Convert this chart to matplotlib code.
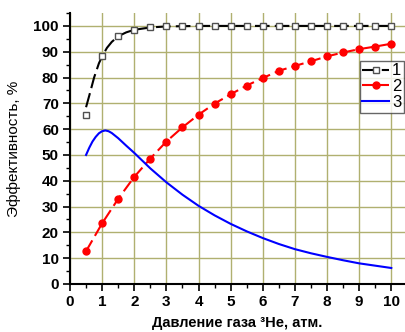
import matplotlib
matplotlib.use("Agg")
import matplotlib.pyplot as plt
from matplotlib.ticker import MultipleLocator

plt.rcParams['font.family'] = ['Liberation Sans', 'DejaVu Sans']

# series 1: measured points and the smooth curve through them
p1_x = [0.5, 1.0, 1.5, 2.0, 2.5, 3.0, 3.5, 4.0, 4.5, 5.0, 5.5, 6.0, 6.5, 7.0, 7.5, 8.0, 8.5, 9.0, 9.5, 10.0]
p1_y = [65.3, 88.2, 96.0, 98.5, 99.4, 100, 100, 100, 100, 100, 100, 100, 100, 100, 100, 100, 100, 100, 100, 100]
c1_x = [0.5, 0.6, 0.75, 0.9, 1.0, 1.15, 1.3, 1.5, 1.75, 2.0, 2.5, 3.0, 4.0, 5.0, 6.0, 7.0, 8.0, 9.0, 10.0]
c1_y = [68.5, 73.0, 80.0, 85.5, 88.2, 91.5, 93.8, 96.0, 97.5, 98.5, 99.4, 99.8, 100, 100, 100, 100, 100, 100, 100]

# series 2
p2_x = [0.5, 1.0, 1.5, 2.0, 2.5, 3.0, 3.5, 4.0, 4.5, 5.0, 5.5, 6.0, 6.5, 7.0, 7.5, 8.0, 8.5, 9.0, 9.5, 10.0]
p2_y = [12.7, 23.5, 33.0, 41.5, 48.6, 55.2, 60.7, 65.6, 69.9, 73.5, 76.9, 79.8, 82.6, 84.5, 86.3, 88.2, 89.7, 91.0, 92.0, 93.1]

# series 3 (curve only)
c3_x = [0.5, 0.6, 0.7, 0.8, 0.9, 1.0, 1.1, 1.2, 1.3, 1.5, 1.75, 2.0, 2.25, 2.5, 3.0, 3.5, 4.0, 4.5, 5.0, 5.5, 6.0, 6.5, 7.0, 7.5, 8.0, 8.5, 9.0, 9.5, 10.0]
c3_y = [50.0, 52.8, 55.2, 57.0, 58.4, 59.2, 59.5, 59.2, 58.5, 56.5, 53.6, 50.8, 47.8, 44.8, 39.4, 34.6, 30.3, 26.6, 23.3, 20.4, 17.8, 15.5, 13.5, 11.9, 10.5, 9.2, 8.0, 7.1, 6.2]

fig = plt.figure(figsize=(4.06, 3.32), dpi=100)
ax = fig.add_axes([0.1724, 0.1446, 0.8246, 0.8162])

grid_col = '#b0b070'
ax.set_xlim(0, 10.42)
ax.set_ylim(0, 105)
ax.xaxis.set_major_locator(MultipleLocator(1))
ax.xaxis.set_minor_locator(MultipleLocator(0.5))
ax.yaxis.set_major_locator(MultipleLocator(10))
ax.yaxis.set_minor_locator(MultipleLocator(5))
ax.grid(True, which='major', color=grid_col, lw=1.0)
ax.set_axisbelow(True)

ax.plot(c1_x, c1_y, color='black', lw=1.5, dashes=(7, 2.5), zorder=3)
ax.plot(p1_x, p1_y, ls='none', marker='s', ms=5, mfc='white', mec='#505050', mew=1.0, zorder=4)
ax.plot([], [], color='black', lw=1.5, dashes=(7, 2.5), marker='s', ms=5, mfc='white', mec='#505050', label='1')

ax.plot(p2_x, p2_y, color='red', lw=1.5, dashes=(6, 2.5), marker='o', ms=5, mfc='red', mec='red', zorder=3, label='2')
ax.plot(c3_x, c3_y, color='blue', lw=1.5, zorder=3, label='3')

for s in ['top', 'right']:
    ax.spines[s].set_visible(False)
for s in ['left', 'bottom']:
    ax.spines[s].set_linewidth(1.5)
ax.tick_params(which='major', direction='out', length=5, width=1.2, labelsize=11, pad=3)
ax.tick_params(which='minor', direction='out', length=3, width=1.0)
for lab in ax.get_xticklabels() + ax.get_yticklabels():
    lab.set_fontweight('bold')

ax.set_xlabel('Давление газа ³He, атм.', fontsize=10.5, fontweight='bold', labelpad=5)
ax.set_ylabel('Эффективность, %', fontsize=11, labelpad=9)

leg = ax.legend(loc='upper right', bbox_to_anchor=(0.998, 0.823), fontsize=12, frameon=True,
                fancybox=False, edgecolor='#404040', handlelength=1.6, handletextpad=0.2,
                borderpad=0.15, labelspacing=0.05, borderaxespad=0)
leg.get_frame().set_linewidth(1.0)

fig.savefig('out.png', dpi=100)
